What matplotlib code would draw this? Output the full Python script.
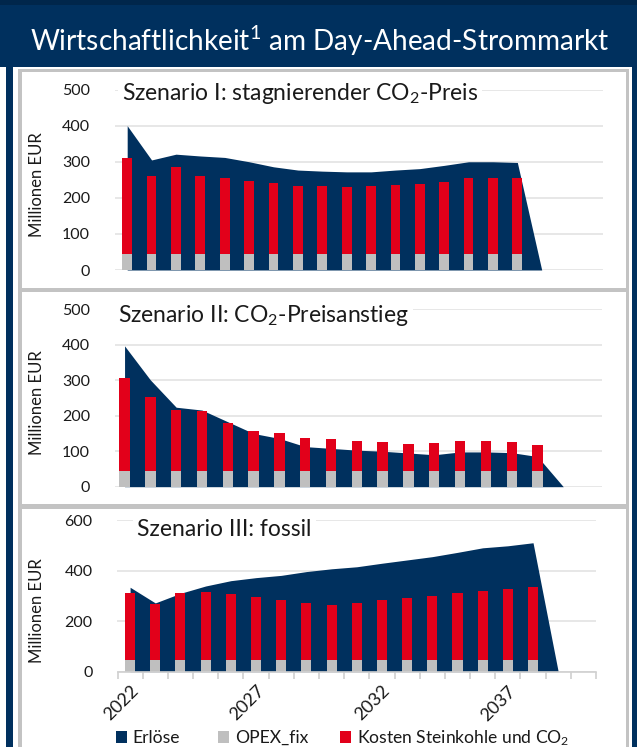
import matplotlib
matplotlib.use("Agg")
import matplotlib.pyplot as plt
from matplotlib.patches import Rectangle, Patch

plt.rcParams["font.family"] = ["Lato", "DejaVu Sans"]
plt.rcParams["mathtext.fontset"] = "custom"
plt.rcParams["mathtext.rm"] = "Lato"
plt.rcParams["mathtext.it"] = "Lato:italic"
plt.rcParams["mathtext.bf"] = "Lato:bold"

# ---------------- data ----------------
bar_years = list(range(2022, 2039))        # 17 years with costs
area_years = list(range(2022, 2040))       # revenue area, drops to 0 in 2039
tick_years = [2022, 2027, 2032, 2037]

opex_fix = [45, 45, 45, 45, 45, 45, 45, 45, 45, 45, 45, 45, 45, 45, 45, 45, 45]

coal_s1 = [265, 215, 241, 215, 209, 203, 197, 188, 188, 185, 188, 191, 193, 200, 209, 209, 209]
rev_s1 = [400, 305, 321, 316, 312, 300, 286, 277, 274, 272, 272, 277, 281, 290, 300, 300, 298, 0]

coal_s2 = [262, 209, 170, 168, 134, 113, 107, 92, 89, 83, 80, 74, 77, 83, 83, 80, 72]
rev_s2 = [397, 301, 224, 216, 183, 150, 136, 113, 108, 103, 100, 95, 90, 98, 98, 96, 85, 0]

coal_s3 = [265, 224, 265, 270, 261, 249, 237, 228, 220, 228, 237, 245, 253, 265, 274, 282, 291]
rev_s3 = [334, 272, 310, 339, 360, 372, 381, 396, 407, 415, 429, 442, 455, 472, 490, 498, 510, 0]

titles = [r"Szenario I: stagnierender CO$_{\mathregular{2}}$-Preis",
          r"Szenario II: CO$_{\mathregular{2}}$-Preisanstieg",
          "Szenario III: fossil"]
legend_labels = ["Erlöse", "OPEX_fix", r"Kosten Steinkohle und CO$_{\mathregular{2}}$"]

# ---------------- style ----------------
NAVY = "#00305E"
NAVY_DARK = "#00264B"
RED = "#E2001A"
GRAY = "#BFBFBF"
BORDER = "#C3C3C3"
GRID = "#E3E3E3"
TXT = "#1A1A1A"

W, H = 637, 747
fig = plt.figure(figsize=(W / 100, H / 100), dpi=100, facecolor=NAVY)


def frect(x0, y0, x1, y1, color, z=-5):
    fig.patches.append(Rectangle((x0 / W, 1 - y1 / H), (x1 - x0) / W, (y1 - y0) / H,
                                 transform=fig.transFigure, facecolor=color,
                                 edgecolor="none", zorder=z))


def axes_px(x0, x1, ytop, ybot):
    return fig.add_axes([x0 / W, 1 - ybot / H, (x1 - x0) / W, (ybot - ytop) / H])


# background frame
frect(0, 0, W, 5, NAVY_DARK)
frect(0, 67, 6, H, "white")
frect(13, 67, 632, H, "white")
# panels (grey border + white inside)
panels_px = [(18, 69, 629, 291), (18, 289, 629, 507), (18, 505, 629, 760)]
for (x0, y0, x1, y1) in panels_px:
    frect(x0, y0, x1, y1, BORDER, z=-4)
    frect(x0 + 3.5, y0 + 3.5, x1 - 3.5, y1 - 3.5, "white", z=-3)

fig.text(320 / W, 1 - 41 / H, r"Wirtschaftlichkeit$^{\mathregular{1}}$ am Day-Ahead-Strommarkt",
         color="white", fontsize=20.2, ha="center", va="center")

# ---------------- panels ----------------
specs = [
    dict(rect=(115, 602.7, 89.6, 270), ylim=500, yt=[0, 100, 200, 300, 400, 500],
         xlim=(-0.5, 19.5), coal=coal_s1, rev=rev_s1, title_xy=(122, 93), ylab_y=185),
    dict(rect=(115, 601.5, 309.3, 486.7), ylim=500, yt=[0, 100, 200, 300, 400, 500],
         xlim=(-0.37, 18.48), coal=coal_s2, rev=rev_s2, title_xy=(118, 316), ylab_y=403),
    dict(rect=(117.5, 596, 520, 671.7), ylim=600, yt=[0, 200, 400, 600],
         xlim=(-0.5, 18.5), coal=coal_s3, rev=rev_s3, title_xy=(137, 530), ylab_y=611),
]

for i, sp in enumerate(specs):
    x0, x1, yt_, yb_ = sp["rect"]
    ax = axes_px(x0, x1, yt_, yb_)
    ax.set_facecolor("none")
    xb = [y - 2022 for y in bar_years]
    xa = [y - 2022 for y in area_years]
    ax.fill_between(xa, sp["rev"], 0, color=NAVY, lw=0, zorder=1)
    ax.bar(xb, opex_fix, width=0.4, color=GRAY, zorder=2, lw=0)
    ax.bar(xb, sp["coal"], bottom=opex_fix, width=0.4, color=RED, zorder=2, lw=0)
    ax.set_xlim(*sp["xlim"])
    ax.set_ylim(0, sp["ylim"])
    ax.set_yticks(sp["yt"])
    ax.yaxis.grid(True, color=GRID, lw=1.2, zorder=0)
    ax.set_axisbelow(True)
    for s in ["top", "right", "left"]:
        ax.spines[s].set_visible(False)
    ax.tick_params(axis="y", length=0, pad=18, labelsize=11.5, labelcolor=TXT)
    if i < 2:
        ax.spines["bottom"].set_visible(False)
        ax.set_xticks([])
    else:
        ax.spines["bottom"].set_color("#D0D0D0")
        ax.spines["bottom"].set_linewidth(1.2)
        ax.set_xticks([y - 2022 for y in tick_years])
        ax.set_xticklabels([str(y) for y in tick_years], rotation=45, ha="right",
                           va="top", rotation_mode="anchor", fontsize=13, color=TXT)
        ax.tick_params(axis="x", length=0, pad=8)
        ax.set_xticks([k - 0.5 for k in range(20)], minor=True)
        ax.tick_params(axis="x", which="minor", length=5, color="#D0D0D0", width=1.2)
    tx, ty = sp["title_xy"]
    fig.text(tx / W, 1 - ty / H, titles[i], fontsize=16.5, color=TXT, ha="left", va="center",
             bbox=dict(facecolor="white", edgecolor="none", pad=3), zorder=5)
    fig.text(37 / W, 1 - sp["ylab_y"] / H, "Millionen EUR", rotation=90, fontsize=12,
             color=TXT, ha="center", va="center")

handles = [Patch(facecolor=NAVY), Patch(facecolor=GRAY), Patch(facecolor=RED)]
leg_x = [116, 218, 340]
for h, lab, lx in zip(handles, legend_labels, leg_x):
    fig.legend([h], [lab], loc="center left", bbox_to_anchor=(lx / W, 1 - 738 / H),
               frameon=False, fontsize=12.6, handlelength=0.65, handleheight=0.65,
               handletextpad=0.3, borderpad=0, borderaxespad=0, labelcolor=TXT)

fig.savefig("out.png", dpi=100, facecolor=NAVY)
